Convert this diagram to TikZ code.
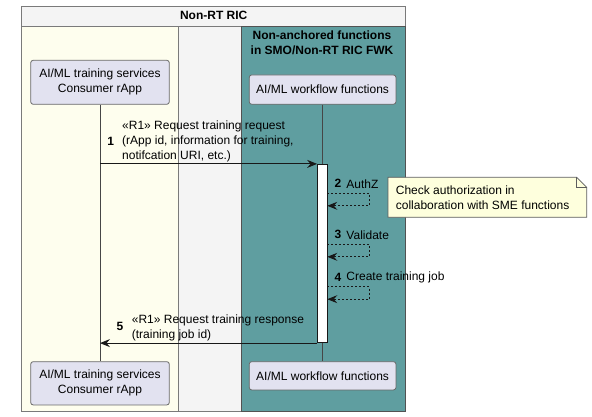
\documentclass[tikz,border=0pt]{standalone}
\usepackage{fontspec}
\setmainfont{Liberation Sans}
\usepackage{xcolor}
\usetikzlibrary{arrows.meta,positioning,calc}
\definecolor{Ink}{HTML}{181818}
\definecolor{Edge}{HTML}{7A7A7A}
\definecolor{Frame}{HTML}{F4F4F4}
\definecolor{Ivory}{HTML}{FEFEEE}
\definecolor{Cadet}{HTML}{5F9EA0}
\definecolor{Part}{HTML}{E2E2F0}
\definecolor{NoteBg}{HTML}{FEFFDD}

\begin{document}
\begin{tikzpicture}[x=1pt,y=-1pt,
    txt/.style={font=\fontsize{12}{15}\selectfont,inner sep=0pt},
    partbox/.style={txt,draw=Ink!65,fill=Part,rounded corners=2.5pt,align=center,line width=0.8pt},
    lbl/.style={txt,align=left,anchor=west},
    num/.style={txt,font=\bfseries\fontsize{12}{15}\selectfont},
    msg/.style={-{Stealth[length=10pt,width=8pt,inset=3.5pt]},Ink,line width=0.8pt},
    selfmsg/.style={msg,dash pattern=on 2pt off 2pt},
    life/.style={Ink!80,line width=0.6pt}]
  \useasboundingbox (0,0) rectangle (592,417);
  % boxes
  \draw[Edge,fill=Frame,line width=0.8pt] (21.7,6) rectangle (405.7,411.7);
  \draw[Edge,line width=0.8pt] (21.7,26) -- (405.7,26);
  \draw[Edge,fill=Ivory,line width=0.8pt] (21.7,26) rectangle (178.3,411.7);
  \draw[Ink!75,fill=Cadet,line width=0.8pt] (241,26) rectangle (405.7,411.7);
  \node[num] (ric) at (213.7,15.5) {Non-RT RIC};
  \node[num,align=center] (fwk) at (322,42.5) {Non-anchored functions\\in SMO/Non-RT RIC FWK};

  % participants
  \node[partbox,minimum width=138.6pt,minimum height=44pt] (rapp) at (100,82.3) {AI/ML training services\\Consumer rApp};
  \node[partbox,minimum width=146.7pt,minimum height=29.3pt] (wf) at (322.6,89.6) {AI/ML workflow functions};
  \node[partbox,minimum width=138.6pt,minimum height=43.3pt] (rapp2) at (100,383.3) {AI/ML training services\\Consumer rApp};
  \node[partbox,minimum width=146.7pt,minimum height=28.3pt] (wf2) at (322.6,375.8) {AI/ML workflow functions};
  \draw[life] (rapp) -- (rapp2);
  \draw[life] (wf) -- (wf2);
  \node[draw=Ink,fill=white,line width=0.8pt,minimum width=9.8pt,minimum height=178.4pt,inner sep=0pt] (act) at (322.4,253.5) {};

  % messages
  \draw[msg] (rapp.south |- act.north) -- (act.north west);
  \node[num] (n1) at (110.7,141) {1};
  \node[lbl] (m1) at (122,141) {«R1» Request training request\\(rApp id, information for training,\\notifcation URI, etc.)};
  \foreach \n/\t/\s in {2/193.3/AuthZ,3/244.3/Validate,4/286.7/Create training job}{
    \coordinate (loop\n) at (327.3,\t);
    \coordinate (back\n) at (327.3,\t+12.5);
    \draw[selfmsg] (loop\n) -- ++(42,0) |- (back\n);
    \node[num,anchor=west] (n\n) at (334.4,\t-9.5) {\n};
    \node[lbl,right=4.8pt of n\n] (m\n) {\s};
  }
  \draw[msg] (act.south west) -- (rapp.south |- act.south);
  \node[num] (n5) at (120,326) {5};
  \node[lbl] (m5) at (131.7,327.5) {«R1» Request training response\\(training job id)};

  % note
  \draw[Ink!70,fill=NoteBg,line width=0.8pt] (388,177.3) -- (576.7,177.3) -- (586.7,187.3) -- (586.7,217.3) -- (388,217.3) -- cycle;
  \draw[Ink!70,line width=0.8pt] (576.7,177.3) -- (576.7,187.3) -- (586.7,187.3);
  \node[lbl,font=\fontsize{12}{14.3}\selectfont] (note) at (395.7,197.8) {Check authorization in\\collaboration with SME functions};
\end{tikzpicture}
\end{document}
